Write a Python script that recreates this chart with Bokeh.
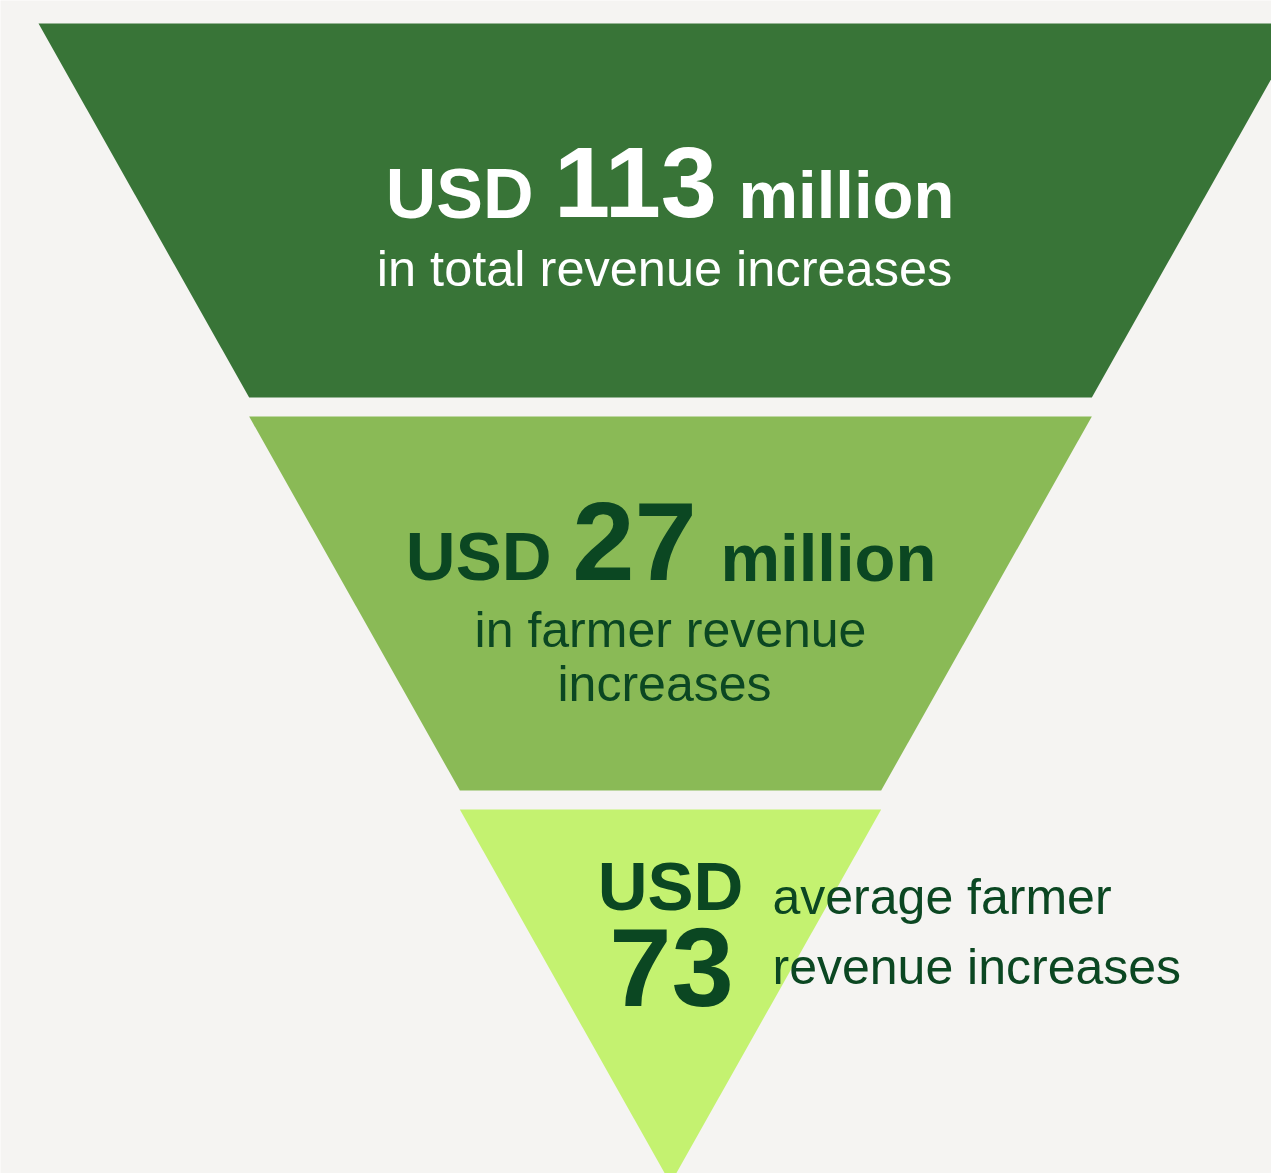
from bokeh.plotting import figure
from bokeh.models import Range1d, ColumnDataSource
from bokeh.core.properties import value
from bokeh.embed import file_html
from bokeh.resources import INLINE

# ---- data ----
stage_prefix = ["USD", "USD", "USD"]
stage_amounts = ["113", "27", "73"]
stage_units = ["million", "million", ""]
stage_captions = [
    ["in total revenue increases"],
    ["in farmer revenue", "increases"],
    ["average farmer", "revenue increases"],
]
stage_colors = ["#387437", "#8aba56", "#c4f270"]
text_colors = ["#ffffff", "#0b4722", "#0b4722"]

# ---- layout ----
W, H = 1271, 1173
BG = "#f5f4f2"
cx = 670.0
top_half = 632.0
top_y = 23.0
band_h = 374.0
gap = 19.0
n = len(stage_amounts)
BASELINE_FIX = 0.37  # renderer places alphabetic baseline lower by this fraction of size

p = figure(width=W, height=H, output_backend="svg", toolbar_location=None,
           x_range=Range1d(0, W), y_range=Range1d(H, 0), min_border=0)
p.axis.visible = False
p.grid.visible = False
p.outline_line_color = None
p.background_fill_color = BG
p.border_fill_color = BG

xs, ys = [], []
for i in range(n):
    t = top_y + i * (band_h + gap)
    b = t + band_h
    ht = top_half * (n - i) / n
    hb = top_half * (n - i - 1) / n
    xs.append([cx - ht, cx + ht, cx + hb, cx - hb])
    ys.append([t, t, b, b])
p.patches(xs, ys, fill_color=stage_colors, line_color=None)

rows = dict(x=[], y=[], text=[], size=[], color=[], style=[], align=[])

def txt(x, y, s, size, color, bold=False, align="center"):
    rows["x"].append(x)
    rows["y"].append(y - BASELINE_FIX * size)
    rows["text"].append(s)
    rows["size"].append(f"{size}px")
    rows["color"].append(color)
    rows["style"].append("bold" if bold else "normal")
    rows["align"].append(align)

# band 1
txt(533, 219, stage_prefix[0], 70, text_colors[0], True, "right")
txt(635, 219, stage_amounts[0], 101, text_colors[0], True, "center")
txt(738, 219, stage_units[0], 67, text_colors[0], True, "left")
txt(664, 287, stage_captions[0][0], 50.5, text_colors[0])

# band 2
txt(551, 582, stage_prefix[1], 69, text_colors[1], True, "right")
txt(634, 582, stage_amounts[1], 112, text_colors[1], True, "center")
txt(720, 582, stage_units[1], 67, text_colors[1], True, "left")
txt(670, 648, stage_captions[1][0], 50, text_colors[1])
txt(664, 702, stage_captions[1][1], 50, text_colors[1])

# band 3
txt(670, 912, stage_prefix[2], 69, text_colors[2], True, "center")
txt(671, 1008, stage_amounts[2], 112, text_colors[2], True, "center")
txt(772, 915, stage_captions[2][0], 50, text_colors[2], False, "left")
txt(772, 985, stage_captions[2][1], 50, text_colors[2], False, "left")

src = ColumnDataSource(rows)
p.text(x="x", y="y", text="text", source=src,
       text_font=value("Liberation Sans"), text_font_size="size",
       text_font_style="style", text_color="color",
       text_align="align", text_baseline="alphabetic")

open("out.html", "w").write(file_html(p, INLINE))
